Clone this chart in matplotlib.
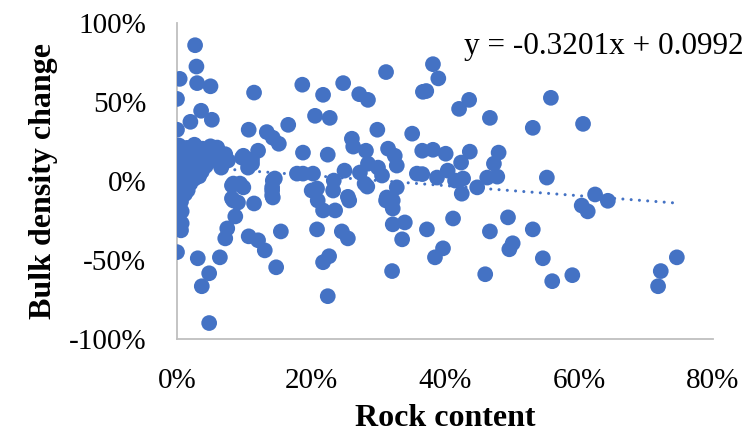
import numpy as np
import matplotlib.pyplot as plt
from matplotlib.ticker import FuncFormatter

plt.rcParams['font.family'] = ['Liberation Serif', 'DejaVu Serif']

# rock content (%) and bulk density change (%) per sample
rock_content = [
    # scattered samples
    2.7, 2.9, 0.4, 3.0, 5.0, 0.0, 11.5, 18.7, 3.6, 2.0, 5.2, 0.0, 10.7, 13.4,
    16.6, 14.3, 15.2, 18.8, 20.6, 21.8, 24.8, 22.8, 27.2, 28.5, 31.2, 36.7,
    37.2, 38.2, 39.0, 42.1, 43.6, 46.7, 29.9, 35.1, 26.1, 26.3, 28.2, 31.5,
    32.5, 32.8, 36.6, 38.2, 40.1, 43.7, 48.0, 42.4, 47.3, 22.5, 18.8, 20.3,
    23.4, 23.3, 25.0, 27.3, 28.5, 30.0, 30.6, 32.8, 35.8, 36.6, 38.8, 40.4,
    41.5, 42.7, 44.8, 46.3, 47.8, 20.9, 25.5, 42.5, 28.0, 31.3,
    21.0, 21.8, 23.6, 25.7, 28.4, 31.2, 32.2, 32.2, 20.9, 24.6, 25.5, 32.2,
    34.0, 33.6, 37.3, 41.2, 46.7, 22.7, 21.8, 39.7, 38.5, 32.1, 46.0, 22.5,
    55.8, 53.1, 60.6, 55.2, 62.4, 64.3, 60.4, 61.3, 49.4, 53.1, 50.1, 49.6,
    54.6, 59.0, 56.0, 74.6, 72.2, 71.8,
    0.7, 0.7, 0.6, 0.0, 3.1, 6.4, 4.8, 3.7, 4.8, 7.5, 7.2, 8.7, 8.4, 9.1,
    11.5, 10.7, 12.1, 13.1, 14.8, 15.5, 8.2, 9.9, 14.2, 14.2,
    9.9, 12.1, 11.2, 10.6, 17.9, 14.6, 14.2, 14.3, 9.4, 20.1, 7.6, 6.6,
    9.7, 11.2, 14.3, 8.4, 8.2,
    # dense cluster at low rock content
    0.3, 1.5, 2.6, 3.8, 5.0, 6.0,
    0.0, 1.0, 2.2, 3.3, 4.4, 5.6, 7.2,
    0.5, 1.7, 2.8, 4.0, 5.2, 6.6,
    0.2, 1.2, 2.4, 3.5, 4.6, 6.4,
    0.0, 0.9, 2.0, 3.1, 4.3,
    0.4, 1.4, 2.6, 3.7,
    0.1, 1.1, 2.2, 3.3,
    0.3, 1.5, 2.6,
    0.0, 1.0, 2.0,
    0.5, 1.6,
    0.2, 1.2,
    0.6,
]
density_change = [
    86.0, 72.5, 64.7, 62.0, 60.0, 52.0, 56.0, 61.0, 44.5, 37.5, 38.8, 32.5,
    32.5, 31.0, 35.6, 27.4, 23.6, 18.0, 41.3, 54.6, 62.0, 40.0, 55.0, 51.4,
    69.0, 56.5, 57.0, 74.0, 65.0, 45.7, 51.4, 40.0, 32.5, 30.0, 26.8, 21.8,
    19.2, 20.5, 16.0, 9.8, 19.2, 19.8, 17.3, 18.6, 18.0, 11.7, 11.0, 16.7,
    4.7, 4.7, 0.3, -6.0, 6.6, 5.4, 11.0, 8.5, 3.5, -4.0, 4.7, 4.4, 2.2, 6.6,
    0.3, 1.6, -4.0, 2.2, 2.8, -4.7, -10.0, -8.0, -1.6, -10.4,
    -12.3, -18.6, -18.6, -12.3, -3.5, -12.3, -12.3, -17.4, -30.6, -31.9,
    -36.3, -27.4, -26.2, -36.9, -30.6, -23.7, -31.9, -47.6, -51.4, -42.6,
    -48.3, -57.0, -59.0, -72.9,
    52.7, 33.7, 36.2, 2.2, -8.5, -12.5, -15.5, -19.2, -23.0, -30.6, -39.4,
    -43.2, -48.9, -59.6, -63.4, -48.3, -57.0, -66.6,
    -19.2, -26.8, -31.2, -45.0, -48.9, -48.3, -58.4, -66.6, -89.9, -30.0,
    -36.3, -22.4, -12.3, -13.6, -14.2, -35.0, -37.5, -43.9, -54.6, -31.9,
    -2.8, -4.0, -9.1, -4.0,
    16.0, 19.2, 11.0, 8.5, 4.7, 1.6, -6.0, -10.4, -1.6, -6.0, 13.0, 8.5,
    14.8, 13.5, 0.3, -1.6, -11.0,
    22.5, 21.0, 23.0, 20.5, 22.0, 21.2,
    19.0, 18.2, 19.8, 17.5, 18.8, 19.5, 17.0,
    16.2, 15.0, 16.5, 15.4, 14.5, 15.8,
    13.0, 12.2, 13.5, 11.8, 12.6, 11.0,
    10.0, 9.2, 10.5, 8.8, 9.6,
    7.0, 6.2, 7.5, 6.0,
    4.0, 3.2, 4.5, 3.0,
    1.0, 0.2, 1.5,
    -2.0, -2.8, -1.5,
    -5.0, -5.8,
    -9.0, -8.2,
    -13.0,
]

# linear trendline coefficients (fraction vs fraction)
slope = -0.3201
intercept = 0.0992

x = np.array(rock_content) / 100
y = np.array(density_change) / 100

fig = plt.figure(figsize=(7.5, 4.36), dpi=100)
ax = fig.add_axes([0.236, 0.2225, 0.7147, 0.7245])

ax.scatter(x, y, s=128, color='#4472C4', edgecolors='none', zorder=3)

x_fit = np.array([x.min(), x.max()])
ax.plot(x_fit, slope * x_fit + intercept, color='#4472C4', linewidth=2.2,
        linestyle=(0, (0.01, 2.7)), dash_capstyle='round', zorder=2)

ax.set_xlim(0, 0.8)
ax.set_ylim(-1, 1)
ax.set_xticks([0, 0.2, 0.4, 0.6, 0.8])
ax.set_yticks([-1, -0.5, 0, 0.5, 1])
pct = FuncFormatter(lambda v, _: f"{v * 100:.0f}%")
ax.xaxis.set_major_formatter(pct)
ax.yaxis.set_major_formatter(pct)
ax.tick_params(length=0, labelsize=21)
ax.tick_params(axis='y', pad=22)
ax.tick_params(axis='x', pad=21)

for side in ['top', 'right']:
    ax.spines[side].set_visible(False)
for side in ['left', 'bottom']:
    ax.spines[side].set_color('#BFBFBF')
    ax.spines[side].set_linewidth(1.3)

ax.set_xlabel("Rock content", fontsize=23, fontweight='bold', labelpad=7)
ax.set_ylabel("Bulk density change", fontsize=23, fontweight='bold', labelpad=8)

ax.text(0.846, 0.855, "y = -0.3201x + 0.0992", fontsize=22.5, ha='right',
        va='center', transform=ax.transData, clip_on=False)

fig.savefig("out.png", dpi=100)
